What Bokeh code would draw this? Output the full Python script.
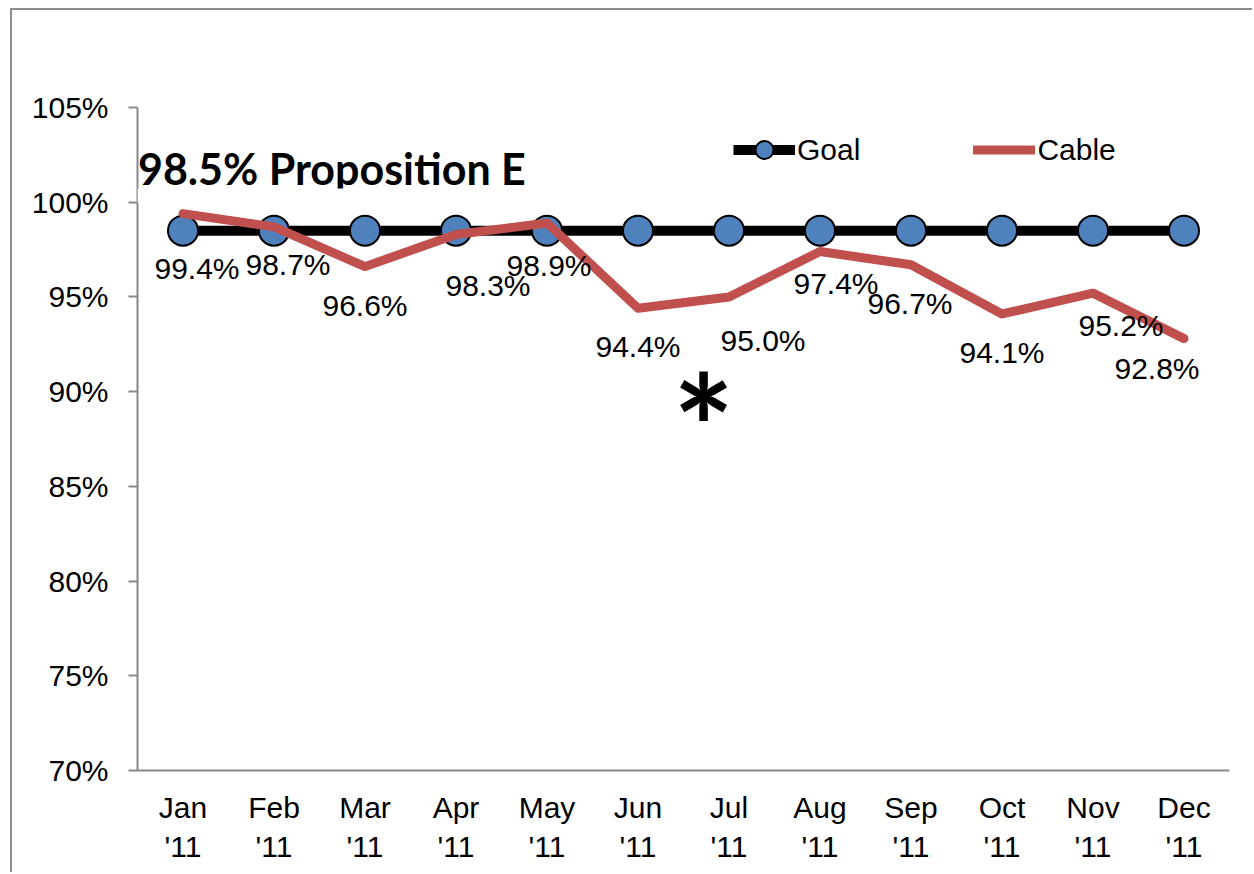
from bokeh.plotting import figure
from bokeh.models import (Range1d, FactorRange, PrintfTickFormatter, FixedTicker, Legend, LegendItem,
                          Label, ColumnDataSource, BoxAnnotation)
from bokeh.core.properties import value
from bokeh.embed import file_html
from bokeh.resources import INLINE

# ---- data ----
months = ["Jan\n'11", "Feb\n'11", "Mar\n'11", "Apr\n'11", "May\n'11", "Jun\n'11",
          "Jul\n'11", "Aug\n'11", "Sep\n'11", "Oct\n'11", "Nov\n'11", "Dec\n'11"]
goal = [98.5] * 12
cable = [99.4, 98.7, 96.6, 98.3, 98.9, 94.4, 95.0, 97.4, 96.7, 94.1, 95.2, 92.8]
cable_labels = ["99.4%", "98.7%", "96.6%", "98.3%", "98.9%", "94.4%",
                "95.0%", "97.4%", "96.7%", "94.1%", "95.2%", "92.8%"]
y_ticks = [70, 75, 80, 85, 90, 95, 100, 105]
title_text = "98.5% Proposition E"

# label placement (pixels)
label_dx = [14, 14, 0, 32, 2, 0, 34, 16, -1, 0, 28, -27]
label_dy = [55, 38, 39, 51, 42, 38, 44, 32, 39, 39, 32, 30]

FONT = "Liberation Sans"
GRAY = "#888888"

p = figure(width=1242, height=864, x_range=FactorRange(factors=months),
           y_range=Range1d(70, 105), output_backend="svg", toolbar_location=None,
           min_border_left=125, min_border_right=25, min_border_top=97, min_border_bottom=104)
p.margin = (8, 0, 0, 10)
p.styles = {"border-top": "2px solid #8c8c8c", "border-left": "2px solid #8c8c8c"}
p.outline_line_color = None
p.xgrid.grid_line_color = None
p.ygrid.grid_line_color = None
p.background_fill_color = "white"
p.border_fill_color = "white"

# axes
p.yaxis.ticker = FixedTicker(ticks=y_ticks)
p.yaxis.formatter = PrintfTickFormatter(format="%d%%")
p.yaxis.major_tick_out = 9
p.yaxis.major_tick_in = 0
p.yaxis.minor_tick_line_color = None
p.yaxis.major_label_standoff = 20
for ax in (p.xaxis, p.yaxis):
    ax.axis_line_color = GRAY
    ax.axis_line_width = 2
    ax.major_tick_line_color = GRAY
    ax.major_tick_line_width = 2
    ax.major_label_text_font = FONT
    ax.major_label_text_font_size = "30px"
    ax.major_label_text_color = "black"
p.xaxis.major_tick_out = 0
p.xaxis.major_tick_in = 0
p.xaxis.major_label_standoff = 20

# glyphs
gl = p.line(months, goal, line_color="black", line_width=10)
gs = p.scatter(months, goal, size=30, fill_color="#4F81BD", line_color="black", line_width=2)
cl = p.line(months, cable, line_color="#C0504D", line_width=9, line_join="round", line_cap="round")

src = ColumnDataSource(dict(x=months, y=cable, t=cable_labels, dx=label_dx, dy=label_dy))
p.text(x="x", y="y", text="t", x_offset="dx", y_offset="dy", source=src,
       text_font=value(FONT), text_font_size="30px", text_color="black",
       text_align="center", text_baseline="middle")

# title inside plot (bottom slightly cut, as in the original)
p.add_layout(Label(x=0.005, y=101.8, text=title_text, text_font="Lato", text_font_style="bold",
                   text_font_size="43px", text_color="black", text_align="left",
                   text_baseline="alphabetic"))
p.add_layout(BoxAnnotation(left=0, right=4.5, top=100.73, bottom=99.95,
                           fill_color="white", fill_alpha=1, line_color=None))
# asterisk note
p.add_layout(Label(x=6.22, y=88.2, text="*", text_font="Lato", text_font_style="bold",
                   text_font_size="145px", text_color="black", text_align="center",
                   text_baseline="middle"))

legend = Legend(items=[LegendItem(label="Goal", renderers=[gl, gs]),
                       LegendItem(label="Cable", renderers=[cl])],
                orientation="horizontal", location=(596, 598),
                glyph_width=62, glyph_height=45, label_standoff=2, spacing=113,
                padding=0, margin=0, border_line_color=None, background_fill_alpha=0,
                label_text_font=FONT, label_text_font_size="30px", label_text_color="black")
p.add_layout(legend)

open("out.html", "w").write(file_html(p, INLINE))
